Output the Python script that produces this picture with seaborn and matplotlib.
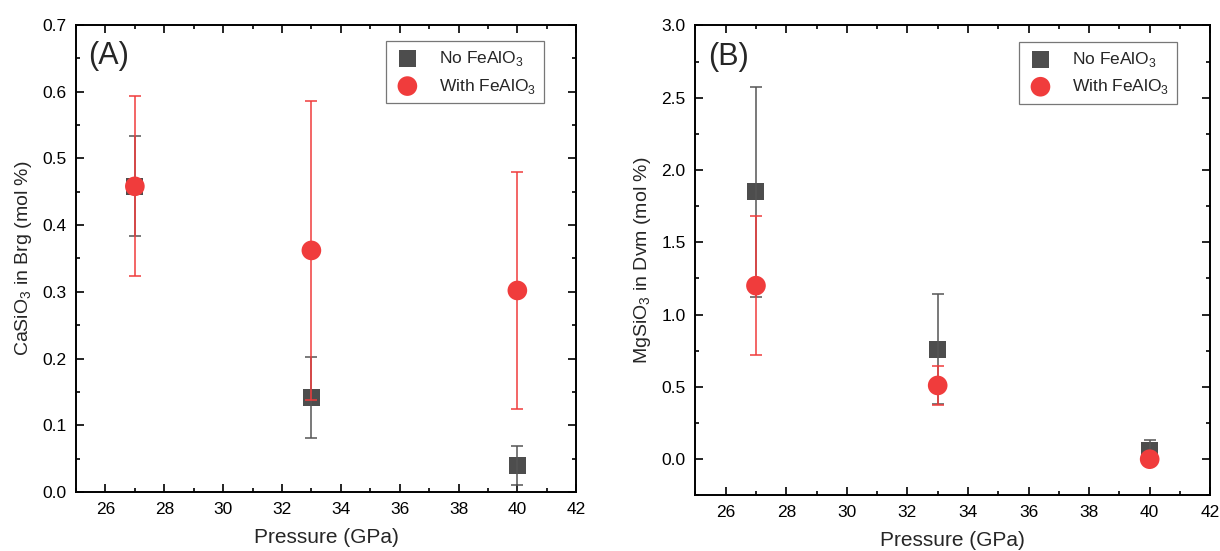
import numpy as np
import pandas as pd
import matplotlib
matplotlib.use("Agg")
import matplotlib.pyplot as plt
from matplotlib.ticker import MultipleLocator, FormatStrFormatter
import seaborn as sns

# Pressure points (GPa)
pressure = [27, 33, 40]

# (A) CaSiO3 in bridgmanite (mol %)
casio3_no = [0.458, 0.142, 0.040]
casio3_no_err = [0.075, 0.061, 0.029]
casio3_with = [0.458, 0.362, 0.302]
casio3_with_err = [0.135, 0.224, 0.177]

# (B) MgSiO3 in davemaoite (mol %)
mgsio3_no = [1.85, 0.76, 0.06]
mgsio3_no_err = [0.725, 0.38, 0.075]
mgsio3_with = [1.20, 0.51, 0.0]
mgsio3_with_err = [0.48, 0.135, 0.02]

series_names = ["No FeAlO$_\\mathregular{3}$", "With FeAlO$_\\mathregular{3}$"]

sns.set_theme(style="ticks")
plt.rcParams["font.family"] = ["Liberation Sans", "DejaVu Sans"]
plt.rcParams["mathtext.fontset"] = "custom"
plt.rcParams["mathtext.rm"] = "Liberation Sans"

GREY = "#4d4d4d"
GREY_ERR = "#555555"
RED = "#f03c3c"

fig = plt.figure(figsize=(12.2, 5.51), dpi=100)
axA = fig.add_axes([0.0623, 0.107, 0.410, 0.848])
axB = fig.add_axes([0.570, 0.101, 0.422, 0.853])


def draw_panel(ax, no_vals, no_err, with_vals, with_err):
    df_no = pd.DataFrame({"p": pressure, "v": no_vals})
    df_with = pd.DataFrame({"p": pressure, "v": with_vals})
    sns.scatterplot(data=df_no, x="p", y="v", marker="s", s=150, color=GREY,
                    edgecolor="none", label=series_names[0], ax=ax, zorder=3)
    ax.errorbar(pressure, no_vals, yerr=no_err, fmt="none", ecolor=GREY_ERR,
                elinewidth=1.1, capsize=4, capthick=1.1, zorder=4)
    sns.scatterplot(data=df_with, x="p", y="v", marker="o", s=200, color=RED,
                    edgecolor="none", label=series_names[1], ax=ax, zorder=5)
    ax.errorbar(pressure, with_vals, yerr=with_err, fmt="none", ecolor=RED,
                elinewidth=1.1, capsize=4, capthick=1.1, zorder=6)


def style_axes(ax, ylabel, ylim, ymajor, yminor, tag):
    ax.set_xlim(25, 42)
    ax.set_ylim(*ylim)
    ax.xaxis.set_major_locator(MultipleLocator(2))
    ax.xaxis.set_minor_locator(MultipleLocator(1))
    ax.yaxis.set_major_locator(MultipleLocator(ymajor))
    ax.yaxis.set_minor_locator(MultipleLocator(yminor))
    ax.yaxis.set_major_formatter(FormatStrFormatter("%.1f"))
    ax.tick_params(which="both", direction="in", top=True, right=True,
                   width=1.2, labelsize=12.5, colors="black")
    ax.tick_params(which="major", length=6, pad=7)
    ax.tick_params(which="minor", length=3)
    for sp in ax.spines.values():
        sp.set_linewidth(1.4)
        sp.set_color("black")
        sp.set_visible(True)
    ax.set_xlabel("Pressure (GPa)", fontsize=15, labelpad=8)
    ax.set_ylabel(ylabel, fontsize=14, labelpad=6)
    ax.text(0.025, 0.965, tag, transform=ax.transAxes, fontsize=22,
            va="top", ha="left")
    leg = ax.legend(loc="upper right", bbox_to_anchor=(0.935, 0.965),
                    fontsize=12.5, frameon=True, fancybox=False,
                    edgecolor="#555555", borderpad=0.45, handletextpad=1.0,
                    labelspacing=0.5, borderaxespad=0.0, handlelength=1.6)
    leg.get_frame().set_linewidth(0.9)


draw_panel(axA, casio3_no, casio3_no_err, casio3_with, casio3_with_err)
style_axes(axA, "CaSiO$_\\mathregular{3}$ in Brg (mol %)", (0.0, 0.7), 0.1, 0.05, "(A)")

draw_panel(axB, mgsio3_no, mgsio3_no_err, mgsio3_with, mgsio3_with_err)
style_axes(axB, "MgSiO$_\\mathregular{3}$ in Dvm (mol %)", (-0.25, 3.0), 0.5, 0.25, "(B)")

fig.savefig("out.png", dpi=100)
